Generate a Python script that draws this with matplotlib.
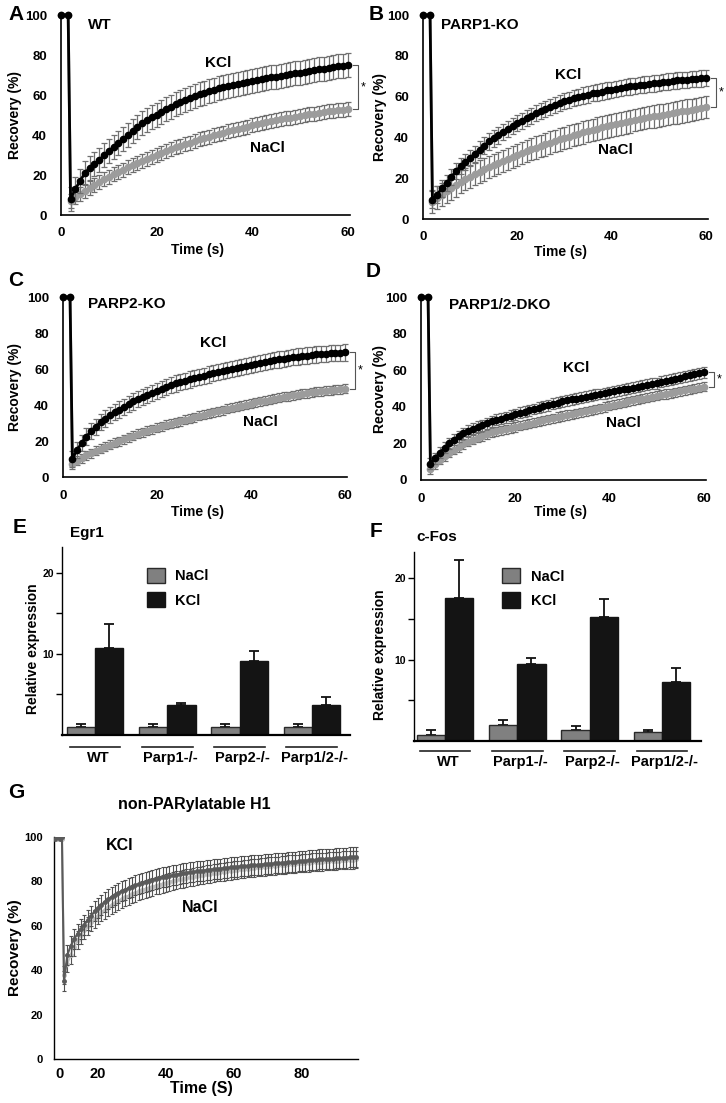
import numpy as np
import matplotlib
matplotlib.use("Agg")
import matplotlib.pyplot as plt
import matplotlib.transforms as mtrans
from matplotlib.patches import Patch

plt.rcParams['font.family'] = ['Liberation Sans', 'DejaVu Sans']
plt.rcParams['font.weight'] = 'bold'

# ---------------- data ----------------
# FRAP time points (s): two pre-bleach frames, then 1 s frames
t_pre = [0, 1.5]
t_rec = list(range(2, 61))

a_kcl = [8, 13, 17, 21, 23.5, 25.5, 27.5, 30, 32, 34, 36, 38, 40, 42, 44, 46, 47.5, 49, 50, 51.5,
         53, 54, 55.5, 56.5, 57.5, 58.5, 59.5, 60.5, 61, 62, 62.5, 63.5, 64, 64.5, 65, 65.5, 66, 66.5, 67, 67.5,
         68, 68.5, 68.8, 69, 69.3, 69.8, 70.3, 70.8, 71.2, 71.6, 72, 72.4, 72.8, 73.2, 73.6, 74, 74.3, 74.6, 75]
a_nacl = [7, 9, 10.5, 12, 13.5, 15, 16.5, 17.8, 19, 20.3, 21.5, 22.7, 23.8, 25, 26, 27, 28, 29, 30, 31,
          32, 33, 33.8, 34.6, 35.4, 36.2, 37, 37.8, 38.5, 39.2, 39.9, 40.6, 41.2, 41.8, 42.4, 43, 43.6, 44.2, 44.8, 45.3,
          45.8, 46.3, 46.8, 47.3, 47.8, 48.3, 48.7, 49.1, 49.5, 49.9, 50.3, 50.7, 51.1, 51.4, 51.8, 52.1, 52.4, 52.7, 53]
b_kcl = [9.5, 12, 15, 17.5, 20.5, 23.5, 26, 28, 30, 32, 34, 36, 38, 39.5, 41, 42.5, 44, 45.5, 47, 48,
         49.5, 50.5, 52, 53, 54, 55, 56, 57, 57.8, 58.5, 59.2, 59.9, 60.5, 61, 61.6, 62, 62.5, 63, 63.4, 63.8,
         64.2, 64.6, 65, 65.3, 65.6, 65.9, 66.2, 66.5, 66.8, 67.1, 67.4, 67.6, 67.9, 68.1, 68.3, 68.5, 68.7, 68.9, 69]
b_nacl = [8.5, 10.5, 12, 13.5, 15, 16.5, 18.3, 19.5, 20.8, 22, 23.2, 24.3, 25.4, 26.5, 27.5, 28.5, 29.5, 30.5, 31.5, 32.4,
          33.3, 34.2, 35, 35.8, 36.6, 37.4, 38.2, 39, 39.7, 40.4, 41.1, 41.8, 42.5, 43.1, 43.7, 44.3, 44.9, 45.4, 45.9, 46.4,
          46.9, 47.4, 47.9, 48.4, 48.9, 49.4, 49.9, 50.3, 50.7, 51.1, 51.5, 51.9, 52.3, 52.7, 53.1, 53.5, 53.9, 54.3, 55]
c_kcl = [10, 15, 19, 22.5, 25.5, 28, 30.5, 32.5, 34.5, 36, 37.5, 39, 40.5, 42, 43.3, 44.5, 45.7, 46.8, 48, 49,
         50, 51, 52, 52.8, 53.5, 54.2, 54.9, 55.6, 56.3, 57, 57.6, 58.2, 58.8, 59.4, 60, 60.6, 61.2, 61.8, 62.3, 62.8,
         63.3, 63.8, 64.3, 64.8, 65.3, 65.7, 66.1, 66.5, 66.9, 67.2, 67.5, 67.8, 68.1, 68.3, 68.5, 68.7, 68.9, 69, 69.2]
c_nacl = [7, 9, 10.5, 12, 13.3, 14.5, 15.7, 16.8, 17.9, 19, 20, 21, 22, 23, 23.9, 24.8, 25.7, 26.5, 27.3, 28.1,
          28.9, 29.7, 30.4, 31.1, 31.8, 32.5, 33.2, 33.9, 34.6, 35.3, 36, 36.6, 37.2, 37.8, 38.4, 39, 39.6, 40.2, 40.8, 41.4,
          42, 42.5, 43, 43.5, 44, 44.5, 45, 45.4, 45.8, 46.2, 46.6, 47, 47.3, 47.6, 47.9, 48.2, 48.5, 48.8, 49]
d_kcl = [9, 12, 15, 17.5, 20, 22, 24, 25.5, 27, 28, 29, 30, 31, 32, 32.8, 33.6, 34.4, 35.2, 36, 36.7,
         37.4, 38.1, 38.8, 39.5, 40.2, 40.9, 41.6, 42.3, 43, 43.5, 44, 44.5, 45, 45.5, 46, 46.5, 47, 47.5, 48, 48.5,
         49, 49.5, 50, 50.5, 51, 51.5, 52, 52.5, 53, 53.6, 54.2, 54.8, 55.4, 56, 56.6, 57.2, 57.8, 58.4, 59]
d_nacl = [6, 8.5, 11, 13, 15, 16.5, 18, 19.5, 21, 22, 23, 24, 25, 26, 26.6, 27.2, 27.8, 28.4, 29, 29.6,
          30.2, 30.8, 31.4, 32, 32.6, 33.2, 33.8, 34.4, 35, 35.5, 36, 36.5, 37, 37.5, 38.1, 38.7, 39.3, 39.9, 40.5, 41.1,
          41.7, 42.3, 42.9, 43.5, 44, 44.5, 45, 45.5, 46, 46.5, 47, 47.5, 48, 48.5, 49, 49.5, 50, 50.5, 51]
# approximate SD per series (KCl, NaCl)
frap_err = {'A': (6, 3.5), 'B': (4, 5.5), 'C': (4.5, 2.5), 'D': (3, 2.5)}

# qPCR bar charts
groups = ['WT', 'Parp1-/-', 'Parp2-/-', 'Parp1/2-/-']
egr1_nacl = [1.0, 1.0, 1.0, 1.0]
egr1_nacl_err = [0.3, 0.3, 0.3, 0.3]
egr1_kcl = [10.7, 3.7, 9.1, 3.7]
egr1_kcl_err = [3.0, 0.3, 1.3, 1.0]
fos_nacl = [0.75, 2.0, 1.4, 1.1]
fos_nacl_err = [0.6, 0.6, 0.45, 0.25]
fos_kcl = [17.5, 9.5, 15.2, 7.2]
fos_kcl_err = [4.7, 0.7, 2.2, 1.8]

# non-PARylatable H1 FRAP
g_pre_t = [7.3, 8.0, 8.7, 9.4]
g_pre_kcl = [99, 100, 99, 100]
g_pre_nacl = [100, 99, 99.5, 99]
g_t = list(range(10, 97))
g_kcl = [35, 47, 51, 54, 56.5, 58.5, 60.5, 62.5, 64.5, 66.5,
         68, 69.5, 70.8, 72, 73, 74, 74.8, 75.6, 76.3, 77,
         77.6, 78.2, 78.8, 79.3, 79.8, 80.3, 80.7, 81.1, 81.5, 81.9,
         82.2, 82.5, 82.8, 83.1, 83.4, 83.6, 83.9, 84.1, 84.3, 84.5,
         84.7, 84.9, 85.1, 85.3, 85.5, 85.6, 85.8, 86, 86.1, 86.3,
         86.4, 86.6, 86.8, 86.9, 87.1, 87.2, 87.3, 87.5, 87.6, 87.7,
         87.9, 88, 88.1, 88.3, 88.4, 88.5, 88.7, 88.8, 88.9, 89.1,
         89.2, 89.3, 89.5, 89.6, 89.7, 89.9, 90, 90.1, 90.2, 90.3,
         90.4, 90.5, 90.6, 90.7, 90.8, 90.9, 91]
g_nacl = [38, 43, 47, 50.5, 53.5, 56, 58, 60, 61.7, 63.2,
          64.6, 66, 67.2, 68.3, 69.3, 70.3, 71.2, 72, 72.8, 73.5,
          74.2, 74.9, 75.5, 76.1, 76.6, 77.1, 77.6, 78.1, 78.5, 79,
          79.4, 79.8, 80.2, 80.5, 80.9, 81.2, 81.5, 81.8, 82.1, 82.4,
          82.7, 83, 83.2, 83.5, 83.7, 84, 84.2, 84.4, 84.6, 84.8,
          85, 85.2, 85.4, 85.6, 85.8, 86, 86.1, 86.3, 86.5, 86.6,
          86.8, 86.9, 87.1, 87.2, 87.4, 87.5, 87.7, 87.8, 87.9, 88.1,
          88.2, 88.3, 88.4, 88.6, 88.7, 88.8, 88.9, 89, 89.1, 89.2,
          89.3, 89.4, 89.5, 89.6, 89.7, 89.8, 89.9]

# ---------------- layout helpers (pixel coords) ----------------
W, H = 726, 1103
fig = plt.figure(figsize=(W / 100, H / 100), dpi=100)


def add_ax(l, t, r, b):
    return fig.add_axes([l / W, 1 - b / H, (r - l) / W, (b - t) / H])


def ftext(x, y, s, size=11, ha='left', **kw):
    fig.text(x / W, 1 - y / H, s, fontsize=size, ha=ha, va='center', fontweight='bold', **kw)


def frap_panel(box, kcl, nacl, err, name, kcl_xy, nacl_xy, letter_xy, name_xy, ylab_x, xlab_xy):
    ax = add_ax(*box)
    t = t_pre + t_rec
    k = [100, 100] + kcl
    n = [100, 100] + nacl
    # no error bars on the pre-bleach frames
    ek = [0, 0] + [err[0]] * len(kcl)
    en = [0, 0] + [err[1]] * len(nacl)
    ax.errorbar(t, n, yerr=en, color='#9c9c9c', marker='o', ms=4.5, lw=2,
                ecolor='#6e6e6e', elinewidth=0.9, capsize=2, capthick=0.9, zorder=2, clip_on=False)
    ax.errorbar(t, k, yerr=ek, color='black', marker='o', ms=4.5, lw=2,
                ecolor='#707070', elinewidth=0.9, capsize=2, capthick=0.9, zorder=3, clip_on=False)
    ax.set_xlim(0, 60.5)
    ax.set_ylim(0, 100)
    ax.set_xticks([0, 20, 40, 60])
    ax.set_yticks([0, 20, 40, 60, 80, 100])
    for s in ['top', 'right']:
        ax.spines[s].set_visible(False)
    for s in ['left', 'bottom']:
        ax.spines[s].set_linewidth(1.2)
    ax.tick_params(axis='x', length=0, pad=9, labelsize=9.5)
    ax.tick_params(axis='y', length=0, pad=10, labelsize=9.5)
    # significance bracket between curve ends
    tr = mtrans.blended_transform_factory(ax.transAxes, ax.transData)
    ax.plot([1.01, 1.028, 1.028, 1.01], [kcl[-1], kcl[-1], nacl[-1], nacl[-1]],
            color='#555555', lw=0.8, transform=tr, clip_on=False)
    ax.text(1.045, (kcl[-1] + nacl[-1]) / 2, '*', transform=tr, fontsize=9,
            ha='center', va='center', fontweight='normal')
    ftext(*letter_xy[:2], letter_xy[2], size=15)
    ftext(*name_xy, name, size=11)
    ftext(*kcl_xy, 'KCl', size=11, ha='center')
    ftext(*nacl_xy, 'NaCl', size=11, ha='center')
    ftext(ylab_x, (box[1] + box[3]) / 2, 'Recovery (%)', size=10, ha='center', rotation=90)
    ftext(*xlab_xy, 'Time (s)', size=10, ha='center')
    return ax


frap_panel((61, 15, 350, 215), a_kcl, a_nacl, frap_err['A'], 'WT',
           (218, 63), (267, 148), (8, 14, 'A'), (88, 25), 15, (197, 250))
frap_panel((423, 15, 708, 219), b_kcl, b_nacl, frap_err['B'], 'PARP1-KO',
           (568, 75), (615, 150), (369, 14, 'B'), (441, 25), 380, (560, 252))
frap_panel((63, 297, 347, 477), c_kcl, c_nacl, frap_err['C'], 'PARP2-KO',
           (213, 343), (260, 422), (8, 280, 'C'), (88, 304), 15, (197, 512))
frap_panel((421, 297, 706, 480), d_kcl, d_nacl, frap_err['D'], 'PARP1/2-DKO',
           (576, 368), (623, 423), (366, 272, 'D'), (449, 305), 380, (560, 512))


def bar_panel(box, xlim, nacl, nacl_err, kcl, kcl_err, title, title_xy, letter_xy,
              ylab_x, leg_xy, line_y, lab_y):
    ax = add_ax(*box)
    x = np.arange(len(groups))
    w = 0.39
    z = np.zeros(len(groups))
    ax.bar(x - w / 2, nacl, w, color='#808080', edgecolor='#2a2a2a', lw=1, label='NaCl', zorder=2)
    ax.bar(x + w / 2, kcl, w, color='#141414', edgecolor='#141414', lw=1, label='KCl', zorder=2)
    ax.errorbar(x - w / 2, nacl, yerr=[z, nacl_err], fmt='none', ecolor='#111111',
                elinewidth=1.3, capsize=3.6, capthick=1.3, zorder=1)
    ax.errorbar(x + w / 2, kcl, yerr=[z, kcl_err], fmt='none', ecolor='#111111',
                elinewidth=1.3, capsize=3.6, capthick=1.3, zorder=1)
    ax.set_xlim(*xlim)
    ax.set_ylim(0, 23.2)
    ax.set_xticks([])
    ax.set_yticks([5, 10, 15, 20])
    ax.set_yticklabels(['', '10', '', '20'])
    ax.tick_params(axis='y', length=4, width=1, pad=2, labelsize=7.5)
    for s in ['top', 'right']:
        ax.spines[s].set_visible(False)
    ax.spines['left'].set_linewidth(1)
    ax.spines['bottom'].set_linewidth(1.6)
    handles = [Patch(facecolor='#808080', edgecolor='#2a2a2a', lw=1),
               Patch(facecolor='#141414', edgecolor='#141414', lw=1)]
    ax.legend(handles, ['NaCl', 'KCl'], loc='upper left', bbox_to_anchor=leg_xy,
              frameon=False, fontsize=10.5, handlelength=1.25, handleheight=1.25,
              handletextpad=0.7, labelspacing=0.6, borderpad=0, borderaxespad=0)
    tr = mtrans.blended_transform_factory(ax.transData, ax.transAxes)
    for i, g in enumerate(groups):
        ax.plot([i - 0.35, i + 0.35], [line_y, line_y], color='#222222', lw=1.2,
                transform=tr, clip_on=False)
        ax.text(i + 0.04, lab_y, g, transform=tr, ha='center', va='center',
                fontsize=10.5, fontweight='bold')
    ftext(*title_xy, title, size=11)
    ftext(*letter_xy[:2], letter_xy[2], size=15)
    ftext(ylab_x, (box[1] + box[3]) / 2 + 8, 'Relative expression', size=10, ha='center', rotation=90)
    return ax


bar_panel((62, 547, 350, 735), (-0.46, 3.53), egr1_nacl, egr1_nacl_err, egr1_kcl, egr1_kcl_err,
          'Egr1', (70, 533), (13, 528, 'E'), 33, (0.295, 0.89), -0.064, -0.122)
bar_panel((414, 552, 701, 741), (-0.43, 3.54), fos_nacl, fos_nacl_err, fos_kcl, fos_kcl_err,
          'c-Fos', (416, 537), (370, 532, 'F'), 380, (0.307, 0.915), -0.053, -0.111)

# ---------------- panel G ----------------
axg = add_ax(54, 837, 358, 1059)
g_err_n = [0] * len(g_pre_t) + [4] * len(g_t)
g_err_k = [0] * len(g_pre_t) + [4.5] * len(g_t)
axg.errorbar(g_pre_t + g_t, g_pre_nacl + g_nacl, yerr=g_err_n, color='#bdbdbd', marker='o', ms=2.5,
             lw=1.5, ecolor='#555555', elinewidth=0.8, capsize=1.5, capthick=0.8, zorder=2)
axg.errorbar(g_pre_t + g_t, g_pre_kcl + g_kcl, yerr=g_err_k, color='#5a5a5a', marker='o', ms=2.5,
             lw=1.5, ecolor='#505050', elinewidth=0.8, capsize=1.5, capthick=0.8, zorder=3)
axg.set_xlim(7.06, 96.5)
axg.set_ylim(0, 100)
axg.set_xticks([8.8, 20, 40, 60, 80])
axg.set_xticklabels(['0', '20', '40', '60', '80'])
axg.set_yticks([0, 20, 40, 60, 80, 100])
for s in ['top', 'right']:
    axg.spines[s].set_visible(False)
for s in ['left', 'bottom']:
    axg.spines[s].set_linewidth(1)
axg.tick_params(axis='x', length=0, pad=6, labelsize=10.5)
axg.tick_params(axis='y', length=0, pad=8, labelsize=8)
ftext(8, 792, 'G', size=15)
ftext(194, 805, 'non-PARylatable H1', size=11.5, ha='center')
ftext(120, 846, 'KCl', size=11.5, ha='center')
ftext(200, 908, 'NaCl', size=11.5, ha='center')
ftext(15, 948, 'Recovery (%)', size=11, ha='center', rotation=90)
ftext(201, 1088, 'Time (S)', size=11.5, ha='center')

fig.savefig('out.png', dpi=100)
